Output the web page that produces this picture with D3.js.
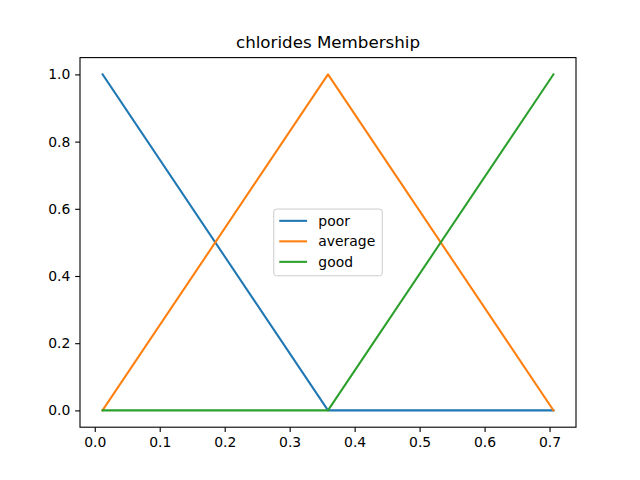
<!DOCTYPE html>
<html>
<head>
<meta charset="UTF-8">
<script src="https://d3js.org/d3.v7.min.js"></script>
<style>
  body { margin: 0; background: white; }
  text { font-family: "DejaVu Sans", sans-serif; fill: black; }
</style>
</head>
<body>
<svg id="chart"></svg>
<script>
// membership functions for chlorides
const seriesNames = ["poor", "average", "good"];
const seriesColors = ["#1f77b4", "#ff7f0e", "#2ca02c"];
const xPoints = [0.012, 0.359, 0.706];
const poor = [1, 0, 0];
const average = [0, 1, 0];
const good = [0, 0, 1];
const xTicks = [0.0, 0.1, 0.2, 0.3, 0.4, 0.5, 0.6, 0.7];
const yTicks = [0.0, 0.2, 0.4, 0.6, 0.8, 1.0];

const width = 640, height = 480;
const margin = { top: 57.6, right: 64, bottom: 52.8, left: 80 };

const svg = d3.select("#chart").attr("width", width).attr("height", height);

const xMin = d3.min(xPoints), xMax = d3.max(xPoints);
const xPad = (xMax - xMin) * 0.05;
const x = d3.scaleLinear()
  .domain([xMin - xPad, xMax + xPad])
  .range([margin.left, width - margin.right]);
const y = d3.scaleLinear()
  .domain([-0.05, 1.05])
  .range([height - margin.bottom, margin.top]);

const series = [poor, average, good].map((vals, i) => ({
  name: seriesNames[i],
  color: seriesColors[i],
  pts: vals.map((v, j) => [xPoints[j], v])
}));

const line = d3.line().x(d => x(d[0])).y(d => y(d[1]));

svg.selectAll(".series")
  .data(series)
  .enter().append("path")
  .attr("class", "series")
  .attr("d", d => line(d.pts))
  .attr("fill", "none")
  .attr("stroke", d => d.color)
  .attr("stroke-width", 2.08)
  .attr("stroke-linejoin", "round")
  .attr("stroke-linecap", "square");

// axes
const xAxis = svg.append("g")
  .attr("transform", `translate(0,${height - margin.bottom})`)
  .call(d3.axisBottom(x).tickValues(xTicks).tickFormat(d3.format(".1f"))
    .tickSizeInner(4.86).tickSizeOuter(0).tickPadding(4.86));
const yAxis = svg.append("g")
  .attr("transform", `translate(${margin.left},0)`)
  .call(d3.axisLeft(y).tickValues(yTicks).tickFormat(d3.format(".1f"))
    .tickSizeInner(4.86).tickSizeOuter(0).tickPadding(4.86));
[xAxis, yAxis].forEach(g => {
  g.select(".domain").remove();
  g.selectAll(".tick line").attr("stroke", "black").attr("stroke-width", 1.1);
  g.selectAll(".tick text").attr("font-size", "13.9px")
    .attr("font-family", "DejaVu Sans").attr("fill", "black");
});

// frame
svg.append("rect")
  .attr("x", margin.left).attr("y", margin.top)
  .attr("width", width - margin.left - margin.right)
  .attr("height", height - margin.top - margin.bottom)
  .attr("fill", "none").attr("stroke", "black").attr("stroke-width", 1.1);

// title
svg.append("text")
  .attr("x", (margin.left + width - margin.right) / 2)
  .attr("y", margin.top - 9.5)
  .attr("text-anchor", "middle")
  .attr("font-size", "16.7px")
  .text("chlorides Membership");

// legend
const legW = 108.5, legH = 66.7;
const cx = (margin.left + width - margin.right) / 2;
const cy = (margin.top + height - margin.bottom) / 2;
const leg = svg.append("g").attr("transform", `translate(${cx - legW / 2},${cy - legH / 2})`);
leg.append("rect")
  .attr("width", legW).attr("height", legH)
  .attr("rx", 2.8).attr("ry", 2.8)
  .attr("fill", "white").attr("fill-opacity", 0.8)
  .attr("stroke", "#cccccc").attr("stroke-width", 1);
const rows = leg.selectAll(".row").data(series).enter().append("g")
  .attr("transform", (d, i) => `translate(0,${11.8 + i * 20.5})`);
rows.append("line")
  .attr("x1", 5.5).attr("x2", 33.3)
  .attr("stroke", d => d.color).attr("stroke-width", 2.08);
rows.append("text")
  .attr("x", 44.6).attr("dy", "0.35em")
  .attr("font-size", "13.9px")
  .text(d => d.name);
</script>
</body>
</html>
